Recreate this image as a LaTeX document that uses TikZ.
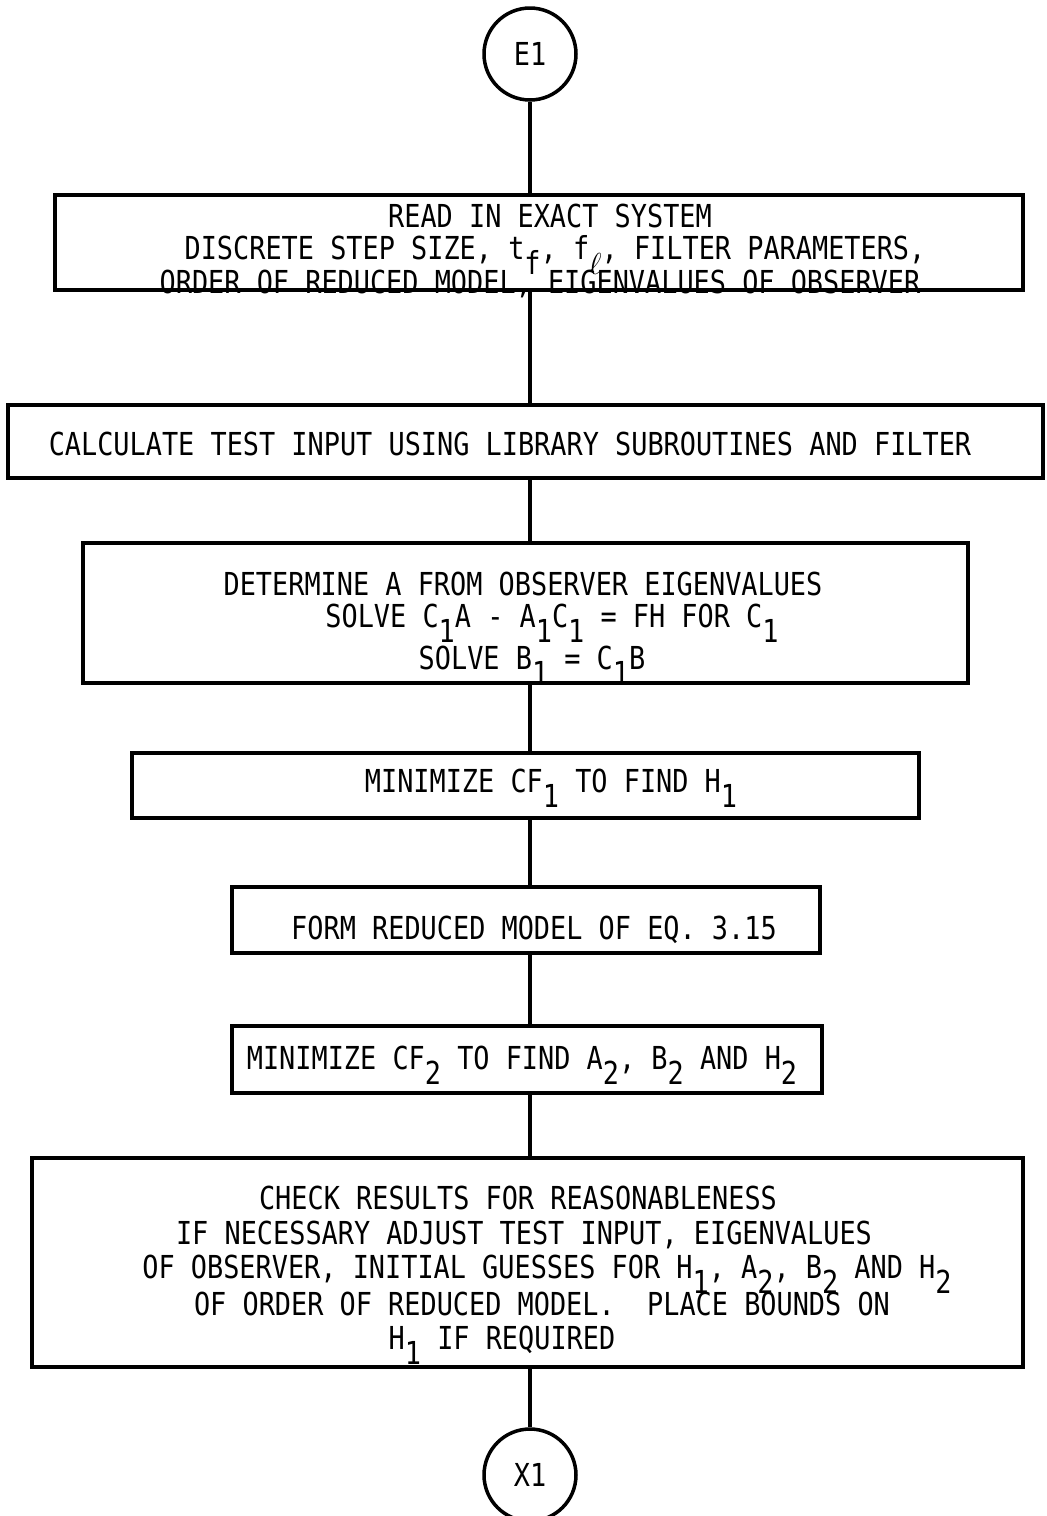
\documentclass[tikz,border=0pt]{standalone}
\usepackage{fontspec}
\setmainfont{DejaVu Sans Mono}[FakeStretch=0.85]
\newcommand\sbx[1]{\raisebox{-0.5em}{#1}}
\begin{document}
\begin{tikzpicture}[x=0.02cm,y=-0.02cm,
  box/.style={draw, rectangle, line width=2pt, inner sep=0pt},
  conn/.style={draw, circle, line width=2pt, minimum size=1.84cm, inner sep=0pt, font=\fontsize{18pt}{21pt}\selectfont},
  lbl/.style={inner sep=0pt, anchor=base, font=\fontsize{18pt}{21pt}\selectfont},
  flow/.style={line width=2pt}]
\useasboundingbox (0,0) rectangle (1047,1516);

% terminals
\node[conn] (e1) at (530,54) {E1};
\node[conn] (x1) at (530,1475) {X1};

% boxes
\node[box, minimum width=19.36cm, minimum height=1.9cm] (b1) at (539,242.5) {};
\node[box, minimum width=20.7cm, minimum height=1.46cm] (b2) at (525.5,441.5) {};
\node[box, minimum width=17.7cm, minimum height=2.8cm] (b3) at (525.5,613) {};
\node[box, minimum width=15.74cm, minimum height=1.3cm] (b4) at (525.5,785.5) {};
\node[box, minimum width=11.76cm, minimum height=1.32cm] (b5) at (526,920) {};
\node[box, minimum width=11.8cm, minimum height=1.34cm] (b6) at (527,1059.5) {};
\node[box, minimum width=19.82cm, minimum height=4.18cm] (b7) at (527.5,1262.5) {};

% texts
\node[lbl] (b1a) at (550,227) {READ IN EXACT SYSTEM};
\node[lbl] (b1b) at (555,259) {DISCRETE STEP SIZE, t\sbx{f}, f\sbx{$\ell$}, FILTER PARAMETERS,};
\node[lbl] (b1c) at (540,293) {ORDER OF REDUCED MODEL, EIGENVALUES OF OBSERVER};
\node[lbl] (b2a) at (510,455) {CALCULATE TEST INPUT USING LIBRARY SUBROUTINES AND FILTER};
\node[lbl] (b3a) at (523,595) {DETERMINE A FROM OBSERVER EIGENVALUES};
\node[lbl] (b3b) at (552,627) {SOLVE C\sbx{1}A - A\sbx{1}C\sbx{1} = FH FOR C\sbx{1}};
\node[lbl] (b3c) at (532,669) {SOLVE B\sbx{1} = C\sbx{1}B};
\node[lbl] (b4a) at (551,792) {MINIMIZE CF\sbx{1} TO FIND H\sbx{1}};
\node[lbl] (b5a) at (534,939) {FORM REDUCED MODEL OF EQ. 3.15};
\node[lbl] (b6a) at (522,1069) {MINIMIZE CF\sbx{2} TO FIND A\sbx{2}, B\sbx{2} AND H\sbx{2}};
\node[lbl] (b7a) at (518,1209) {CHECK RESULTS FOR REASONABLENESS};
\node[lbl] (b7b) at (524,1244) {IF NECESSARY ADJUST TEST INPUT, EIGENVALUES};
\node[lbl] (b7c) at (547,1278) {OF OBSERVER, INITIAL GUESSES FOR H\sbx{1}, A\sbx{2}, B\sbx{2} AND H\sbx{2}};
\node[lbl] (b7d) at (542,1315) {OF ORDER OF REDUCED MODEL.~ PLACE BOUNDS ON};
\node[lbl] (b7e) at (502,1349) {H\sbx{1} IF REQUIRED};

% connectors
\draw[flow] (e1.south) -- (e1.south |- b1.north);
\draw[flow] (b1.south -| e1) -- (b2.north -| e1);
\draw[flow] (b2.south -| e1) -- (b3.north -| e1);
\draw[flow] (b3.south -| e1) -- (b4.north -| e1);
\draw[flow] (b4.south -| e1) -- (b5.north -| e1);
\draw[flow] (b5.south -| e1) -- (b6.north -| e1);
\draw[flow] (b6.south -| e1) -- (b7.north -| e1);
\draw[flow] (b7.south -| e1) -- (x1.north);
\end{tikzpicture}
\end{document}
